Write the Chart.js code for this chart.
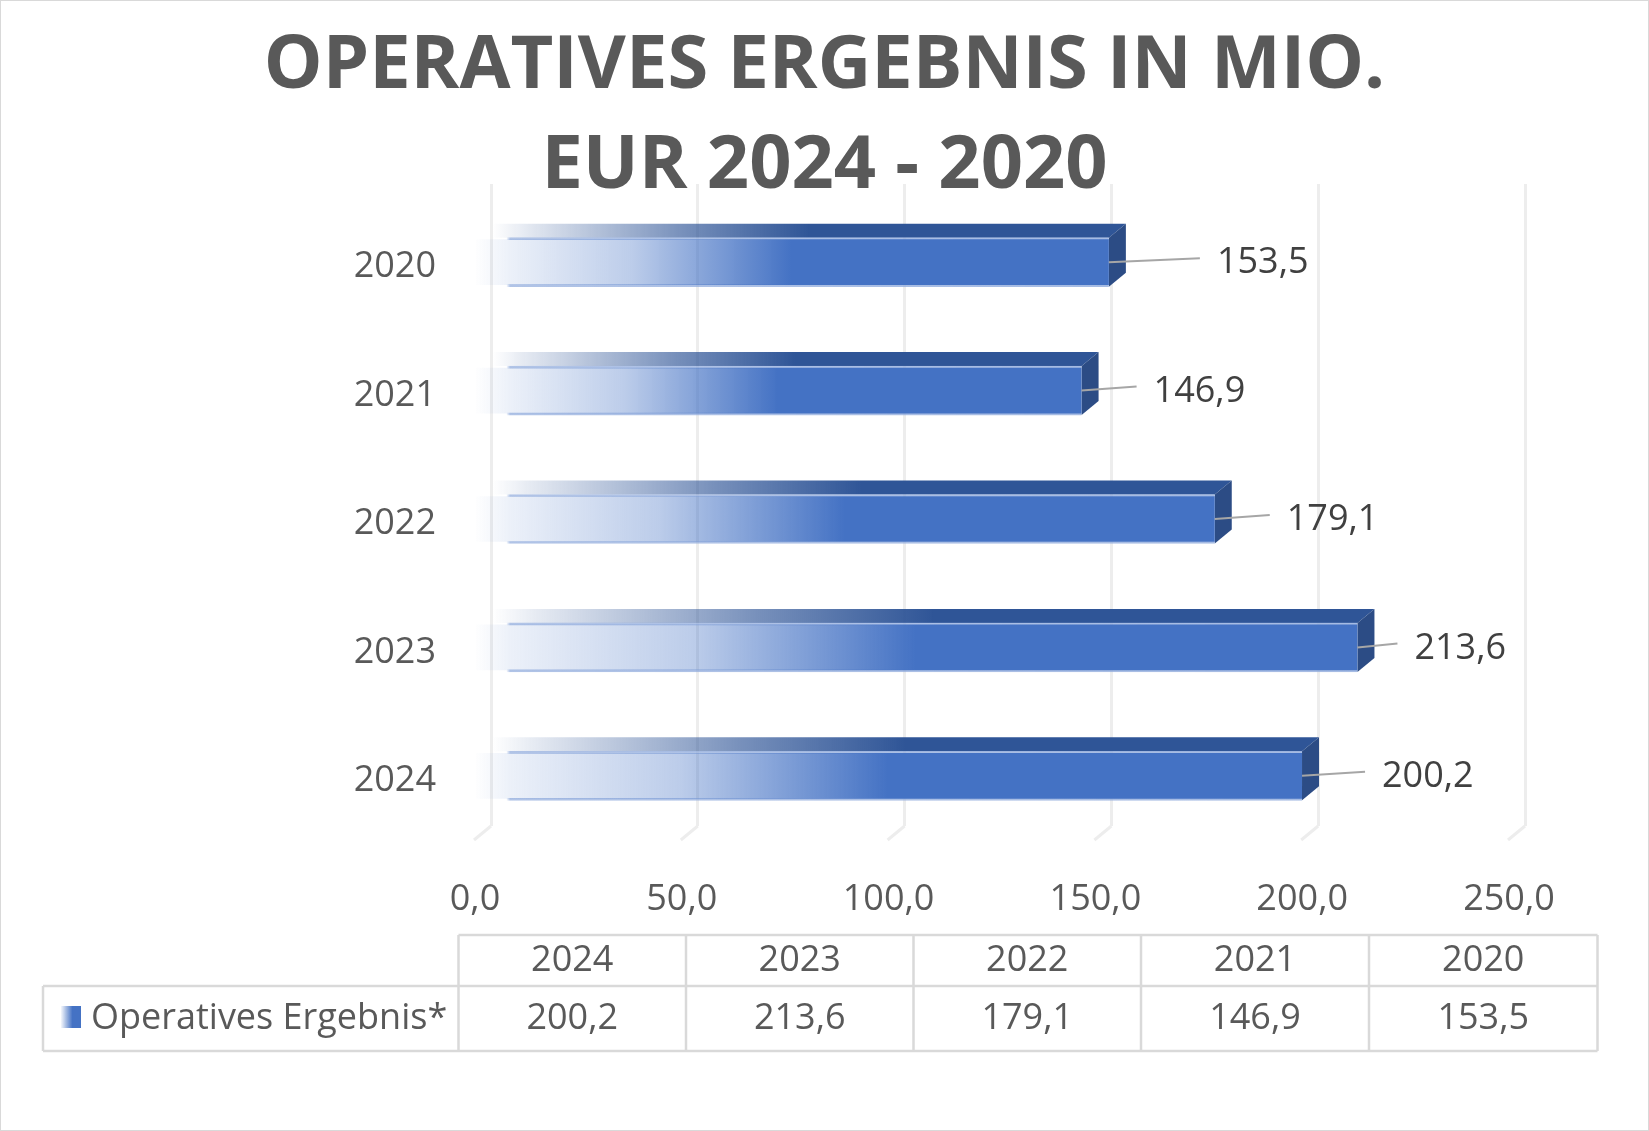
<!DOCTYPE html>
<html>
<head>
<meta charset="utf-8">
<script src="https://cdn.jsdelivr.net/npm/chart.js@4.4.1/dist/chart.umd.min.js"></script>
<style>
  html, body { margin: 0; padding: 0; background: #fff; }
  #wrap { width: 1649px; height: 1131px; position: relative; }
</style>
</head>
<body>
<div id="wrap"><canvas id="chart"></canvas></div>
<script>
// data (Excel order: first category sits at the bottom)
const categories = ["2024", "2023", "2022", "2021", "2020"];
const values = [200.2, 213.6, 179.1, 146.9, 153.5];
const seriesName = "Operatives Ergebnis*";
const titleLines = ["OPERATIVES ERGEBNIS IN MIO.", "EUR 2024 - 2020"];

// label placement: distance of each value label from its bar end (px)
const labelGap = [63, 40, 55, 55, 91];

// 3d depth of the bars / floor
const DX = 17;
const DY = 14;

const fmt = (v) => v.toFixed(1).replace(".", ",");

Chart.defaults.font.family = "'Open Sans', sans-serif";
Chart.defaults.color = "#595959";

function frontGradient(ctx, x0, x1) {
  const g = ctx.createLinearGradient(x0, 0, x1, 0);
  const inner = Math.min(0.2, 36 / (x1 - x0));
  g.addColorStop(0, "rgba(68,114,196,0)");
  g.addColorStop(inner * 0.5, "rgba(68,114,196,0.05)");
  g.addColorStop(inner, "rgba(68,114,196,0.1)");
  g.addColorStop(0.25, "rgba(68,114,196,0.36)");
  g.addColorStop(0.5, "rgba(68,114,196,1)");
  g.addColorStop(1, "rgba(68,114,196,1)");
  return g;
}

function edgeGradient(ctx, x0, x1) {
  const g = ctx.createLinearGradient(x0, 0, x1, 0);
  const inner = Math.min(0.2, 36 / (x1 - x0));
  g.addColorStop(0, "rgba(143,170,220,0)");
  g.addColorStop(inner * 0.9, "rgba(143,170,220,0)");
  g.addColorStop(inner, "rgba(143,170,220,0.7)");
  g.addColorStop(1, "rgba(143,170,220,0.8)");
  return g;
}

const bars3d = {
  id: "bars3d",
  beforeDatasetsDraw(chart) {
    const { ctx, chartArea, scales } = chart;
    // floor edges
    ctx.save();
    ctx.strokeStyle = "#EDEDED";
    ctx.lineWidth = 3;
    scales.x.ticks.forEach((t) => {
      const px = scales.x.getPixelForValue(t.value);
      ctx.beginPath();
      ctx.moveTo(px, chartArea.bottom);
      ctx.lineTo(px - DX, chartArea.bottom + DY);
      ctx.stroke();
    });
    ctx.restore();
  },
  beforeDatasetDraw(chart, args) {
    const { ctx } = chart;
    const meta = chart.getDatasetMeta(args.index);
    meta.data.forEach((bar) => {
      const p = bar.getProps(["x", "y", "base", "height"], true);
      const top = p.y - p.height / 2;
      const bottom = p.y + p.height / 2;
      // top face
      const g = ctx.createLinearGradient(p.base, 0, p.x, 0);
      g.addColorStop(0, "rgba(47,85,151,0)");
      g.addColorStop(0.05, "rgba(47,85,151,0.12)");
      g.addColorStop(0.3, "rgba(47,85,151,0.65)");
      g.addColorStop(0.5, "rgba(47,85,151,1)");
      g.addColorStop(1, "rgba(47,85,151,1)");
      ctx.fillStyle = g;
      ctx.beginPath();
      ctx.moveTo(p.base, top);
      ctx.lineTo(p.x, top);
      ctx.lineTo(p.x - DX, top + DY);
      ctx.lineTo(p.base - DX, top + DY);
      ctx.closePath();
      ctx.fill();
      // side face
      ctx.fillStyle = "#2C4C85";
      ctx.beginPath();
      ctx.moveTo(p.x, top);
      ctx.lineTo(p.x, bottom);
      ctx.lineTo(p.x - DX, bottom + DY);
      ctx.lineTo(p.x - DX, top + DY);
      ctx.closePath();
      ctx.fill();
    });
    // front face is drawn by chart.js, shifted to the front plane
    ctx.save();
    ctx.translate(-DX, DY);
  },
  afterDatasetDraw(chart) {
    chart.ctx.restore();
  },
  afterDatasetsDraw(chart) {
    const { ctx } = chart;
    const meta = chart.getDatasetMeta(0);
    ctx.save();
    meta.data.forEach((bar, i) => {
      const p = bar.getProps(["x", "y"], true);
      const fy = p.y + DY;
      const lx = p.x + labelGap[i];
      ctx.strokeStyle = "#A6A6A6";
      ctx.lineWidth = 2;
      ctx.beginPath();
      ctx.moveTo(p.x - DX, fy);
      ctx.lineTo(lx - 17, fy - 4);
      ctx.stroke();
      ctx.fillStyle = "#404040";
      ctx.font = "36px 'Open Sans', sans-serif";
      ctx.textAlign = "left";
      ctx.textBaseline = "middle";
      ctx.fillText(fmt(values[i]), lx, fy + 1);
    });
    ctx.restore();
  },
  afterDraw(chart) {
    const { ctx, width, height } = chart;
    ctx.save();
    // data table
    const cols = [458.5, 686, 913.5, 1141, 1369, 1597.5];
    const r0 = 935, r1 = 986, r2 = 1051, left = 43;
    ctx.strokeStyle = "#D9D9D9";
    ctx.lineWidth = 2.5;
    ctx.beginPath();
    ctx.moveTo(cols[0], r0); ctx.lineTo(cols[5], r0);
    ctx.moveTo(left, r1); ctx.lineTo(cols[5], r1);
    ctx.moveTo(left, r2); ctx.lineTo(cols[5], r2);
    ctx.moveTo(left, r1); ctx.lineTo(left, r2);
    cols.forEach((c) => { ctx.moveTo(c, r0); ctx.lineTo(c, r2); });
    ctx.stroke();

    ctx.font = "36px 'Open Sans', sans-serif";
    ctx.fillStyle = "#595959";
    ctx.textAlign = "center";
    ctx.textBaseline = "middle";
    categories.forEach((c, i) => {
      const cx = (cols[i] + cols[i + 1]) / 2;
      ctx.fillText(c, cx, (r0 + r1) / 2);
      ctx.fillText(fmt(values[i]), cx, (r1 + r2) / 2);
    });
    // legend key
    const kg = ctx.createLinearGradient(61, 0, 80, 0);
    kg.addColorStop(0, "rgba(68,114,196,0.05)");
    kg.addColorStop(0.6, "rgba(68,114,196,1)");
    kg.addColorStop(1, "rgba(68,114,196,1)");
    ctx.fillStyle = kg;
    ctx.fillRect(61, 1006, 20, 22);
    ctx.fillStyle = "#595959";
    ctx.textAlign = "left";
    ctx.fillText(seriesName, 91, (r1 + r2) / 2);

    // outer frame
    ctx.strokeStyle = "#D9D9D9";
    ctx.lineWidth = 1;
    ctx.strokeRect(0.5, 0.5, width - 1, height - 1);
    ctx.restore();
  }
};

const barPixels = (c) => {
  const xs = c.chart.scales.x;
  if (!xs || typeof c.raw !== "number") return null;
  const x0 = xs.getPixelForValue(0);
  const x1 = xs.getPixelForValue(c.raw);
  if (!isFinite(x0) || !isFinite(x1) || x1 === x0) return null;
  return [x0, x1];
};

new Chart(document.getElementById("chart"), {
  type: "bar",
  data: {
    labels: categories,
    datasets: [{
      label: seriesName,
      data: values,
      barThickness: 49,
      backgroundColor: (c) => {
        const px = barPixels(c);
        return px ? frontGradient(c.chart.ctx, px[0], px[1]) : "#4472C4";
      },
      borderColor: (c) => {
        const px = barPixels(c);
        return px ? edgeGradient(c.chart.ctx, px[0], px[1]) : "#8FAADC";
      },
      borderWidth: { top: 2, bottom: 2, left: 0, right: 0 },
      borderSkipped: false
    }]
  },
  options: {
    indexAxis: "y",
    responsive: true,
    maintainAspectRatio: false,
    animation: false,
    layout: { padding: 0 },
    plugins: {
      legend: { display: false },
      tooltip: { enabled: false },
      title: {
        display: true,
        text: titleLines,
        color: "#595959",
        font: { size: 74, weight: "bold", lineHeight: "100px" },
        padding: { top: 17, bottom: -33 }
      }
    },
    scales: {
      x: {
        min: 0,
        max: 250,
        ticks: {
          stepSize: 50,
          labelOffset: -16,
          padding: 52,
          color: "#595959",
          font: { size: 36 },
          maxRotation: 0,
          callback: (v) => fmt(v)
        },
        grid: { color: "#EDEDED", lineWidth: 3, drawTicks: false },
        border: { display: false },
        afterFit: (s) => { s.height = 305; }
      },
      y: {
        reverse: true,
        ticks: {
          padding: 55,
          labelOffset: 19,
          color: "#595959",
          font: { size: 36 }
        },
        grid: { display: false, drawTicks: false },
        border: { display: false },
        afterFit: (s) => { s.width = 491; }
      },
      // empty right-hand gutter so the title stays centred on the whole canvas
      gutter: {
        type: "linear",
        position: "right",
        ticks: { display: false },
        grid: { display: false, drawTicks: false },
        border: { display: false },
        afterFit: (s) => { s.width = 124; }
      }
    }
  },
  plugins: [bars3d]
});
</script>
</body>
</html>
